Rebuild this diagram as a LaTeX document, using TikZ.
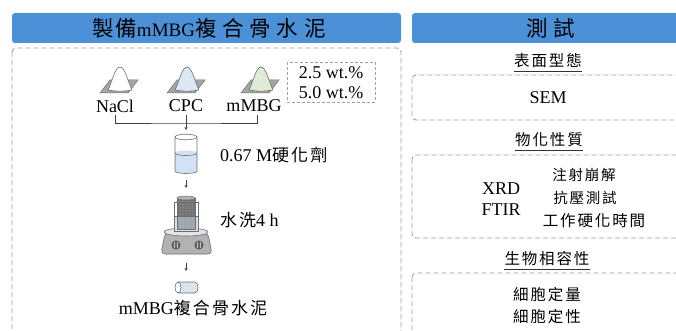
\documentclass[tikz,border=0pt]{standalone}
\usepackage{fontspec}
\setmainfont{Liberation Serif}
\newfontfamily\cjkfont[LetterSpace=12]{Noto Sans CJK TC}
\newfontfamily\cjktitlefont[LetterSpace=27]{Noto Sans CJK TC}
\newfontfamily\cjktitletight[LetterSpace=8]{Noto Sans CJK TC}
\newcommand\zh[1]{{\cjkfont\fontsize{17}{20}\selectfont #1}}
\newcommand\zhs[1]{{\cjkfont\fontsize{15.5}{20}\selectfont #1}}
\newcommand\zhr[1]{{\cjkfont\fontsize{14.5}{20}\selectfont #1}}
\newcommand\zht[1]{{\cjktitlefont\fontsize{21.5}{24}\selectfont #1}}
\newcommand\zhtt[1]{{\cjktitletight\fontsize{21.5}{24}\selectfont #1}}
\usetikzlibrary{arrows.meta,patterns}

\definecolor{hdrblue}{RGB}{76,145,215}
\definecolor{boxgray}{RGB}{160,160,160}
\definecolor{cpcblue}{RGB}{218,232,246}
\definecolor{mbggreen}{RGB}{222,236,214}
\definecolor{liquid}{RGB}{208,226,244}
\definecolor{plategray}{RGB}{165,165,165}
\definecolor{outline}{RGB}{110,110,110}

\tikzset{
  every node/.style={inner sep=0pt, font=\fontsize{18}{20}\selectfont},
  header/.style={fill=hdrblue, rounded corners=3pt},
  panel/.style={draw=boxgray, line width=0.9pt, dash pattern=on 5pt off 3pt, rounded corners=4pt},
  wtbox/.style={draw=boxgray, line width=0.8pt, dash pattern=on 3pt off 2pt},
  flow/.style={draw=black!75, line width=0.6pt},
  arr/.style={draw=black!75, line width=0.6pt, -{Stealth[length=3pt,width=3pt]}},
  glass/.style={draw=outline, line width=0.6pt},
  uline/.style={draw=black!80, line width=0.6pt}
}

\begin{document}
\begin{tikzpicture}[x=1pt,y=-1pt]
\useasboundingbox (0,0) rectangle (676,331);
\clip (0,0) rectangle (676,331);

% ---------- headers ----------
\fill[header] (12,13) rectangle (401,43);
\fill[header] (412,13) rectangle (690,43);
\node (title) at (209,28) {\zhtt{製備}{\fontsize{19}{22}\selectfont mMBG}\zht{複合骨水泥}};
\node (testtitle) at (551,28) {\zht{測試}};

% ---------- left panel ----------
\draw[panel] (12,48) rectangle (401,345);

% powders on weighing plates
\foreach \px/\col in {120/white, 187/cpcblue, 261/mbggreen}{
  \filldraw[fill=plategray, draw=outline, line width=0.5pt]
    (\px-10,80) -- (\px+18,80) -- (\px+8,93) -- (\px-20,93) -- cycle;
  \filldraw[fill=\col, draw=outline, line width=0.6pt]
    (\px-12,90) .. controls (\px-8,82) and (\px-5,67) .. (\px,67)
    .. controls (\px+5,67) and (\px+8,82) .. (\px+12,90)
    .. controls (\px+4,91.5) and (\px-4,91.5) .. (\px-12,90) -- cycle;
}

\node (nacl) at (115,106) {NaCl};
\node (cpc)  at (186,106) {CPC};
\node (mmbg) at (254,106) {mMBG};

% concentration box
\draw[wtbox] (287,62) rectangle (375,102);
\node (wta) at (331,73) {2.5 wt.\%};
\node (wtb) at (331,93) {5.0 wt.\%};

% merging bracket
\coordinate (tickl) at (115,115);
\coordinate (tickc) at (186,115);
\coordinate (tickr) at (257,115);
\coordinate (join)  at (186,123);
\coordinate (beakertop) at (186,130);
\draw[flow] (tickl) |- (join) -| (tickr);
\draw[flow] (tickc) -- (join);
\draw[arr] (join) -- (beakertop);

% beaker with hardening liquid
\fill[white] (175,137) -- (175,171) arc[start angle=180,end angle=0,x radius=11,y radius=2.5] -- (197,137) -- cycle;
\fill[liquid] (175,153) -- (175,171) arc[start angle=180,end angle=0,x radius=11,y radius=2.5]
  -- (197,153) arc[start angle=0,end angle=-180,x radius=11,y radius=2.5] -- cycle;
\draw[glass] (175,153) arc[start angle=180,end angle=0,x radius=11,y radius=2.5];
\draw[glass] (175,137) -- (175,171) arc[start angle=180,end angle=0,x radius=11,y radius=2.5] -- (197,137);
\draw[glass] (186,137) ellipse[x radius=11,y radius=2.8];
\node[anchor=west] (hardener) at (220,155) {0.67 M\zh{硬化劑}};

\coordinate (beakerbot) at (186,175);
\coordinate (stirtop) at (186,196);
\draw[arr, shorten <=5pt, shorten >=8pt] (beakerbot) -- (stirtop);

% washing on stirrer plate
\filldraw[fill=black!30, draw=outline, line width=0.6pt, rounded corners=4pt]
  (165,233) -- (208,233) -- (212,254) -- (161,254) -- cycle;
\filldraw[fill=black!10, draw=outline, line width=0.6pt]
  (186,232) ellipse[x radius=22,y radius=4];
\foreach \kx in {176,199}{
  \filldraw[fill=black!60, draw=black!70, line width=0.5pt] (\kx,245) circle[radius=4.2];
  \draw[black!25, line width=0.7pt] (\kx-1.3,242) -- (\kx-1.3,248) (\kx+1.3,242) -- (\kx+1.3,248);
}
\filldraw[fill=white, draw=outline, line width=0.6pt] (174,202) rectangle (198,231);
\fill[liquid] (174,216) rectangle (198,231);
\fill[black!55] (177,198) rectangle (195,229);
\fill[pattern=dots, pattern color=black!20] (177,198) rectangle (195,229);
\fill[liquid, opacity=0.45] (177,216) rectangle (195,229);
\draw[outline, line width=0.5pt] (177,198) rectangle (195,229);
\filldraw[fill=black!30, draw=outline, line width=0.5pt] (186,198) ellipse[x radius=9,y radius=2];
\draw[outline, line width=0.5pt] (174,216) -- (198,216);
\draw[outline, line width=0.6pt] (174,202) rectangle (198,231);
\node[anchor=west] (wash) at (220,220) {\zh{水洗}4 h};

\coordinate (stirbot) at (186,257);
\coordinate (sampletop) at (186,280);
\draw[arr, shorten <=6pt, shorten >=9pt] (stirbot) -- (sampletop);

% cement sample cylinder
\fill[cpcblue] (178,282) rectangle (195,293);
\fill[cpcblue] (195,287.5) ellipse[x radius=3,y radius=5.5];
\fill[pattern=dots, pattern color=black!25] (178,283) rectangle (196,292);
\draw[outline, line width=0.6pt]
  (178,282) -- (195,282) arc[start angle=-90,end angle=90,x radius=3,y radius=5.5] -- (178,293);
\filldraw[fill=white, draw=outline, line width=0.6pt] (178,287.5) ellipse[x radius=3,y radius=5.5];
\node (cement) at (193,308) {mMBG\zh{複合骨水泥}};

% ---------- right panel ----------
\node (morph) at (548,61) {\zhs{表面型態}};
\draw[uline] ([yshift=-3pt]morph.south west) -- ([yshift=-3pt]morph.south east);
\draw[panel] (412,75) rectangle (690,120);
\node (sem) at (548,98) {SEM};

\node (phys) at (549,140) {\zhs{物化性質}};
\draw[uline] ([yshift=-3pt]phys.south west) -- ([yshift=-3pt]phys.south east);
\draw[panel] (412,155) rectangle (690,238);
\node (xrd)  at (501,189) {XRD};
\node (ftir) at (501,210) {FTIR};
\node (inj)  at (584,175) {\zhr{注射崩解}};
\node (comp) at (585,198) {\zhr{抗壓測試}};
\node (set)  at (594,221) {\zhs{工作硬化時間}};

\node (bio) at (547,259) {\zhs{生物相容性}};
\draw[uline] ([yshift=-3pt]bio.south west) -- ([yshift=-3pt]bio.south east);
\draw[panel] (412,273) rectangle (690,345);
\node (quant) at (547,295) {\zhs{細胞定量}};
\node (qual)  at (547,317) {\zhs{細胞定性}};
\end{tikzpicture}
\end{document}
